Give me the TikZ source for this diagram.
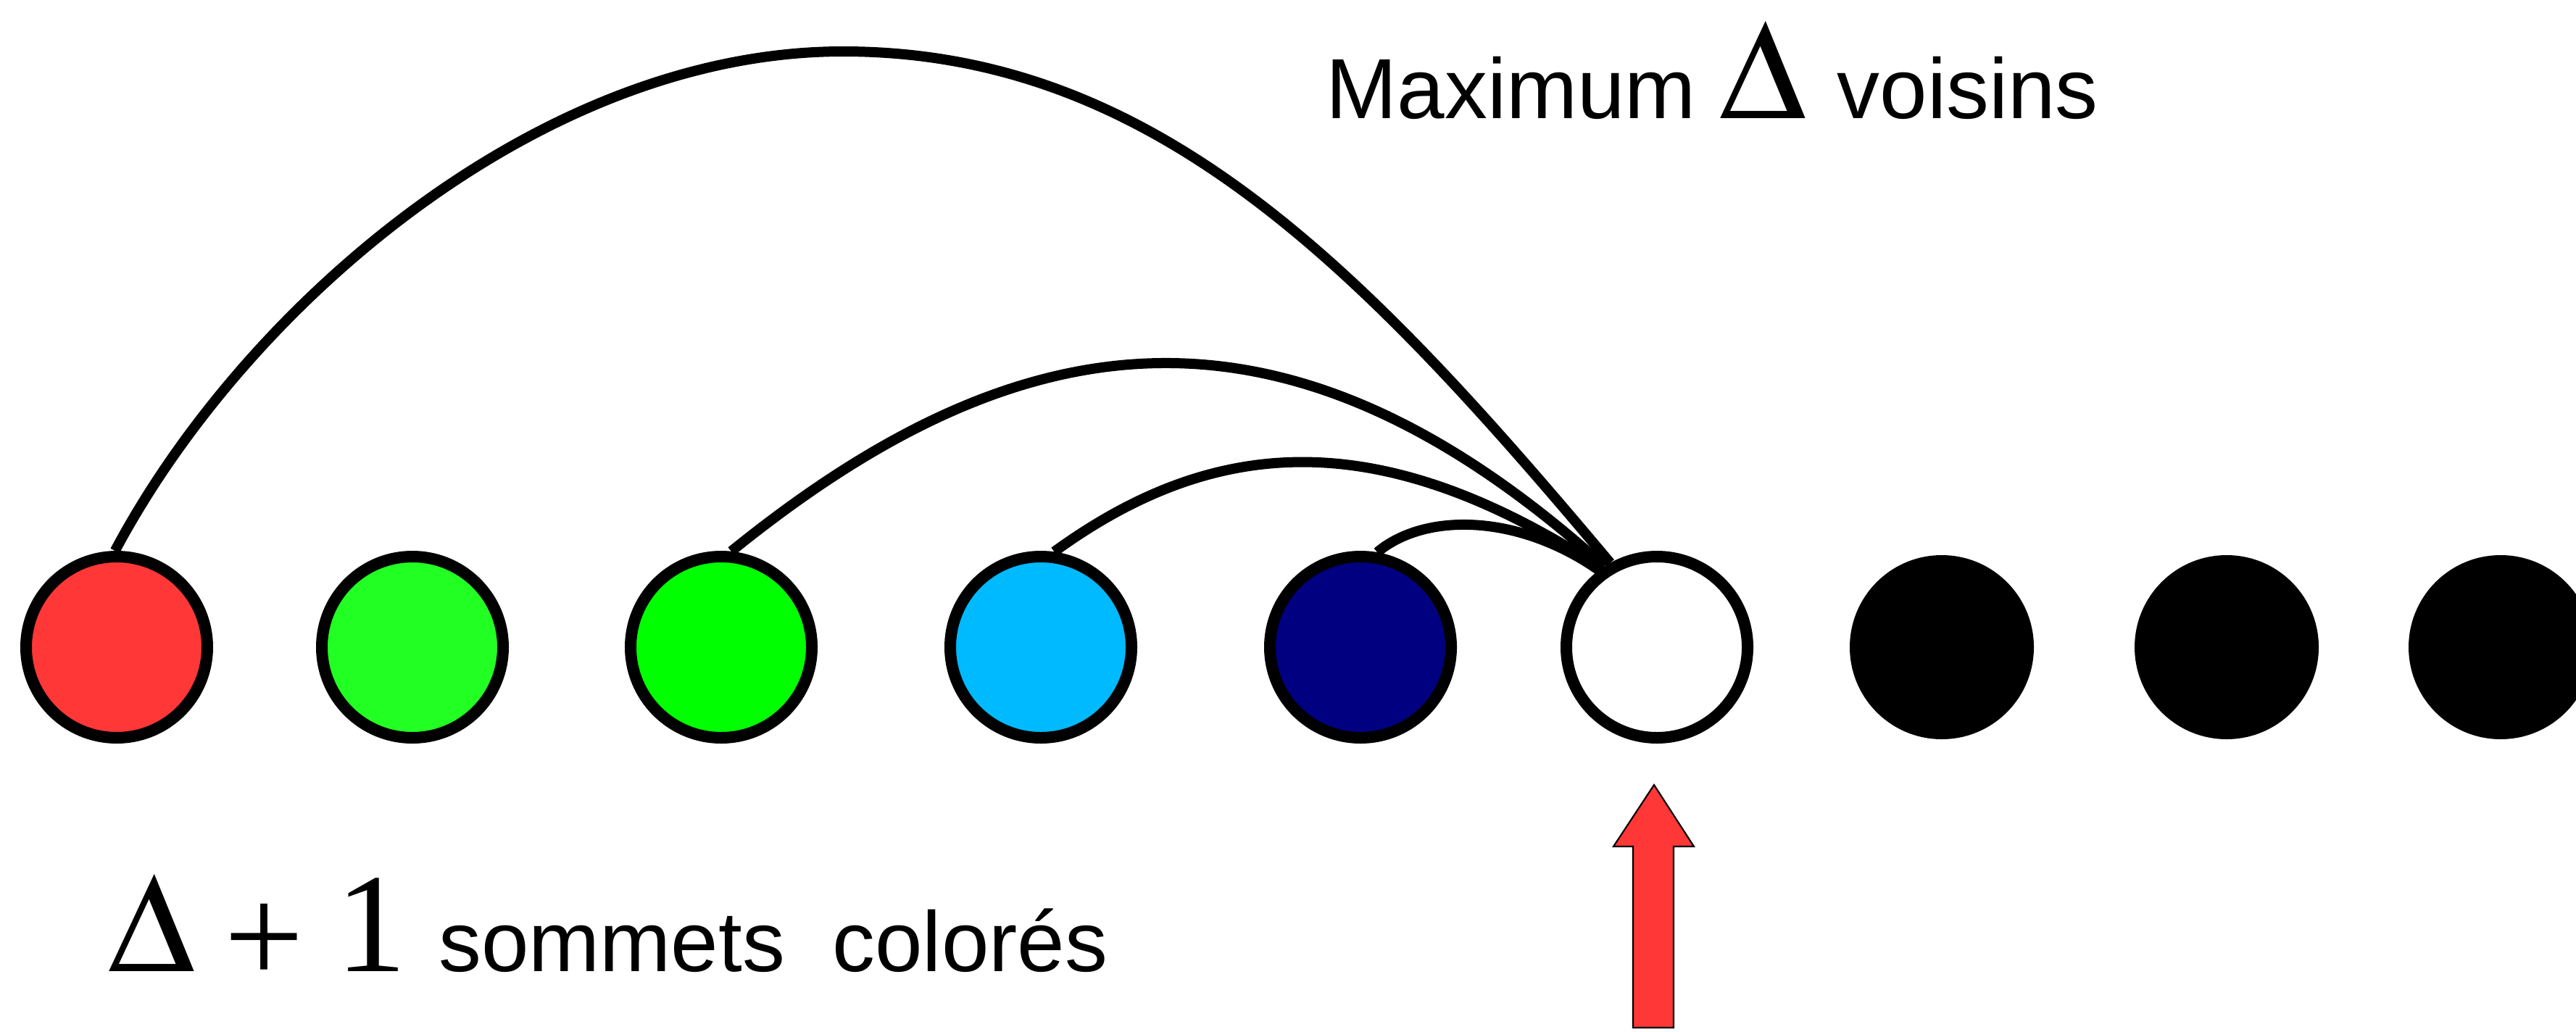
\documentclass[tikz,border=0pt]{standalone}
\usepackage{mathptmx}
\usepackage{fontspec}
\setmainfont{Liberation Sans}
\newfontfamily\romain{Liberation Serif}
\usepackage{tikz}

\definecolor{rouge}{RGB}{255,55,55}
\definecolor{vertclair}{RGB}{34,255,34}
\definecolor{vert}{RGB}{0,255,0}
\definecolor{cyanclair}{RGB}{0,186,255}
\definecolor{marine}{RGB}{0,0,128}

\tikzset{
  sommet/.style={circle, draw=black, line width=0.16cm, minimum size=2.50cm, inner sep=0pt},
  libre/.style={circle, fill=black, minimum size=2.54cm, inner sep=0pt},
  arete/.style={line width=0.14cm},
  legende/.style={anchor=base west, inner sep=0pt, font=\fontsize{33.5pt}{40pt}\selectfont}
}
\newcommand{\grand}[1]{{\fontsize{55.5pt}{60pt}\selectfont$#1$}}
\newcommand{\chiffre}[1]{{\romain\fontsize{55.5pt}{60pt}\selectfont #1}}

\begin{document}
\begin{tikzpicture}
  \useasboundingbox (0,0) rectangle (35.54,-14.23);

  \node [sommet, fill=rouge] (r) at (1.61,-8.93) {};
  \node [sommet, fill=vertclair] (v1) at (5.69,-8.93) {};
  \node [sommet, fill=vert] (v2) at (9.95,-8.93) {};
  \node [sommet, fill=cyanclair] (c) at (14.36,-8.93) {};
  \node [sommet, fill=marine] (m) at (18.77,-8.93) {};
  \node [sommet, fill=white] (w) at (22.86,-8.93) {};
  \node [libre] (n1) at (26.79,-8.93) {};
  \node [libre] (n2) at (30.72,-8.93) {};
  \node [libre] (n3) at (34.50,-8.93) {};

  \coordinate (haut) at (11.63,-0.71);
  \draw [arete] (r.91) .. controls +(62:3.8) and (7.43,-0.71) .. (haut)
    .. controls (15.93,-0.71) and +(130:5.3) .. (w.119);
  \draw [arete] (v2.84) .. controls +(39:5.08) and +(138:5.98) .. (w.123);
  \draw [arete] (c.82) .. controls +(36:2.81) and +(147:3.58) .. (w.125);
  \draw [arete] (m.80) .. controls +(40:0.86) and +(145:1.36) .. (w.127);

  \draw [fill=rouge, line width=0.6pt] (22.82,-10.83) -- (23.37,-11.68) -- (23.09,-11.68)
    -- (23.09,-14.18) -- (22.53,-14.18) -- (22.53,-11.68) -- (22.26,-11.68) -- cycle;

  \node [legende] (max) at (18.29,-1.63) {Maximum \grand{\Delta}\hspace{0.1cm} voisins};
  \node [legende] (cols) at (1.49,-13.40) {\grand{\Delta}\hspace{0.40cm}\raisebox{-0.17cm}{\chiffre{+}}\hspace{0.44cm}\chiffre{1}\hspace{0.12cm} sommets\hspace{0.33cm} colorés};
\end{tikzpicture}
\end{document}
